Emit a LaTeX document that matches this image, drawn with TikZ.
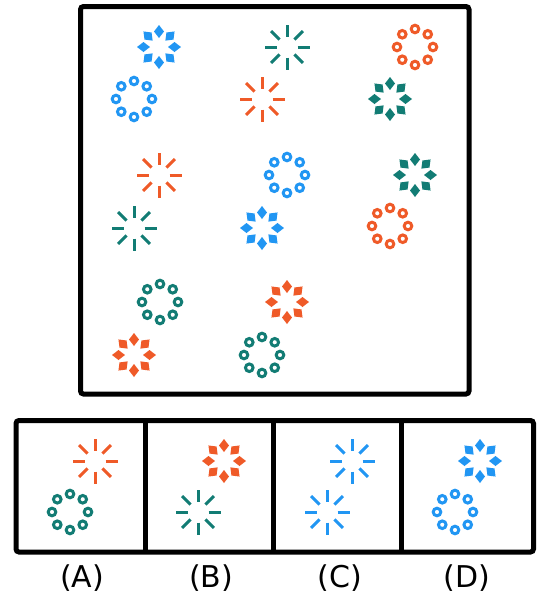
\documentclass[tikz,border=0pt]{standalone}
\usepackage{fontspec}
\setmainfont{DejaVu Sans}
\definecolor{cblue}{HTML}{2196F3}
\definecolor{cteal}{HTML}{127C74}
\definecolor{corange}{HTML}{EF5A28}
\tikzset{
  pics/dstar/.style={code={
    \foreach \a in {0,45,...,315}{
      \fill[#1,rotate=\a] (9,0) -- (15.5,5) -- (22,0) -- (15.5,-5) -- cycle;}}},
  pics/lstar/.style={code={
    \foreach \a in {0,45,...,315}{
      \draw[#1,line width=3,rotate=\a] (10.5,0) -- (22.5,0);}}},
  pics/cring/.style={code={
    \foreach \a in {0,45,...,315}{
      \draw[#1,line width=3] (\a:18) circle (3.8);}}},
  frame/.style={line width=5,rounded corners=3},
  lab/.style={font=\fontsize{30}{34}\selectfont,inner sep=0}
}
\begin{document}
\begin{tikzpicture}[x=1pt,y=-1pt]
\useasboundingbox (0,0) rectangle (550,600);
\draw[frame] (80.5,6.5) rectangle (469,394);
% row 1
\pic at (159,47) {dstar=cblue};
\pic at (134,99) {cring=cblue};
\pic at (287,47) {lstar=cteal};
\pic at (262,99) {lstar=corange};
\pic at (415,47) {cring=corange};
\pic at (390,99) {dstar=cteal};
% row 2
\pic at (159,175) {lstar=corange};
\pic at (134,228) {lstar=cteal};
\pic at (287,175) {cring=cblue};
\pic at (262,228) {dstar=cblue};
\pic at (415,175) {dstar=cteal};
\pic at (390,226) {cring=corange};
% row 3
\pic at (160,302) {cring=cteal};
\pic at (134,355) {dstar=corange};
\pic at (287,302) {dstar=corange};
\pic at (262,355) {cring=cteal};
% options
\draw[frame] (16,420.5) rectangle (533.5,552);
\coordinate (d1t) at (145,420.5); \coordinate (d1b) at (145,552);
\coordinate (d2t) at (273,420.5); \coordinate (d2b) at (273,552);
\coordinate (d3t) at (401,420.5); \coordinate (d3b) at (401,552);
\draw[line width=5] (d1t) -- (d1b);
\draw[line width=5] (d2t) -- (d2b);
\draw[line width=5] (d3t) -- (d3b);
\pic at (95,461) {lstar=corange};
\pic at (70,512) {cring=cteal};
\pic at (224,461) {dstar=corange};
\pic at (198,512) {lstar=cteal};
\pic at (352,461) {lstar=cblue};
\pic at (327,512) {lstar=cblue};
\pic at (480,461) {dstar=cblue};
\pic at (455,512) {cring=cblue};
\node[lab] (la) at (82,578) {(A)};
\node[lab] (lb) at (211,578) {(B)};
\node[lab] (lc) at (340,578) {(C)};
\node[lab] (ld) at (467,578) {(D)};
\end{tikzpicture}
\end{document}
